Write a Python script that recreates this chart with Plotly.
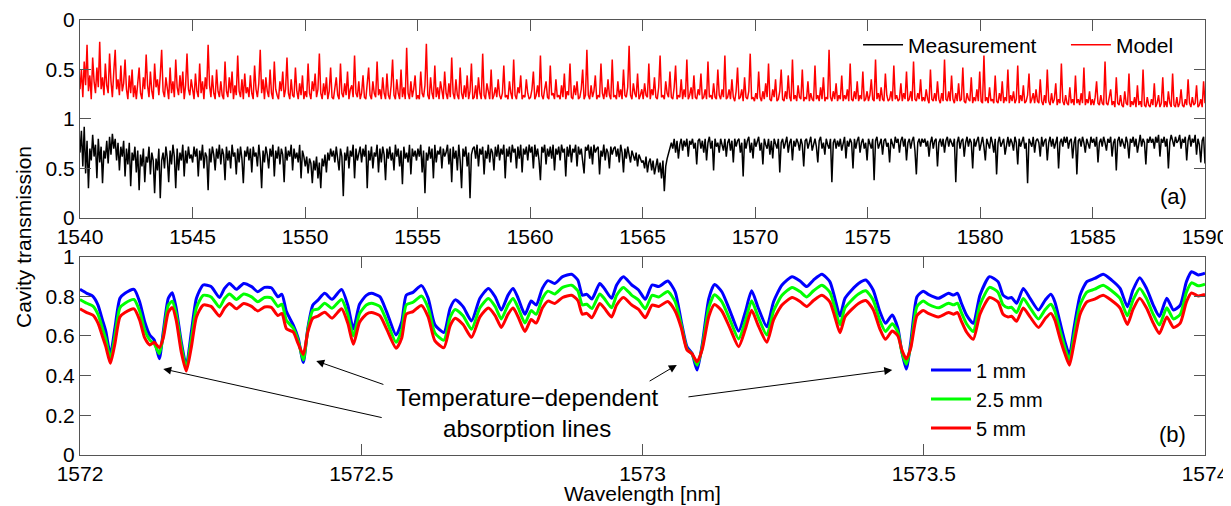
import numpy as np
import plotly.graph_objects as go

# ---------------- Panel (a): broadband spectrum 1540-1590 nm ----------------
meas = [
 .66,.88,.52,.92,.45,.78,.30,.70,.58,.84,.62,.74,.40,.80,.56,.72,.35,.68,.60,.78,
 .55,.82,.64,.85,.70,.80,.58,.76,.48,.72,.62,.78,.42,.70,.54,.76,.32,.66,.58,.72,
 .46,.68,.28,.64,.52,.70,.36,.62,.56,.72,.44,.66,.58,.25,.60,.48,.70,.20,.58,.66,
 .50,.72,.60,.36,.68,.54,.74,.62,.30,.70,.48,.66,.58,.74,.42,.68,.55,.72,.60,.64,
 .56,.72,.62,.70,.42,.68,.58,.74,.50,.66,.62,.28,.70,.56,.72,.64,.48,.70,.60,.74,
 .54,.70,.64,.38,.72,.58,.68,.50,.74,.62,.66,.44,.70,.56,.72,.60,.35,.68,.62,.72,
 .58,.70,.46,.72,.62,.66,.52,.74,.60,.30,.68,.56,.72,.64,.50,.70,.62,.74,.42,.68,
 .60,.72,.54,.70,.64,.36,.72,.58,.68,.62,.74,.48,.70,.60,.66,.56,.74,.40,.68,.62,
 .52,.62,.45,.60,.55,.35,.58,.48,.62,.40,.56,.30,.60,.52,.64,.46,.66,.58,.70,.62,
 .68,.56,.72,.60,.48,.70,.62,.22,.66,.58,.72,.50,.68,.62,.74,.40,.70,.58,.66,.72,
 .56,.70,.62,.74,.30,.68,.58,.72,.50,.66,.62,.74,.46,.70,.56,.72,.64,.38,.70,.60,
 .72,.58,.66,.48,.74,.62,.70,.52,.68,.34,.72,.60,.66,.56,.74,.44,.70,.62,.68,.58,
 .70,.62,.74,.46,.68,.25,.66,.58,.72,.60,.70,.40,.74,.56,.68,.64,.72,.50,.70,.62,
 .66,.74,.54,.70,.36,.72,.60,.68,.48,.74,.58,.30,.70,.62,.72,.52,.66,.20,.64,.70,
 .72,.60,.74,.52,.70,.64,.72,.44,.68,.60,.74,.56,.70,.66,.48,.72,.62,.74,.58,.70,
 .64,.74,.40,.70,.62,.72,.56,.74,.66,.70,.50,.72,.60,.74,.46,.70,.64,.72,.58,.74,
 .66,.72,.50,.74,.62,.70,.58,.38,.72,.66,.74,.54,.70,.62,.72,.60,.74,.48,.70,.64,
 .72,.58,.74,.66,.70,.42,.72,.62,.74,.56,.70,.66,.74,.52,.72,.64,.70,.60,.45,.72,
 .68,.74,.60,.72,.54,.74,.66,.70,.72,.44,.68,.62,.74,.58,.70,.66,.50,.72,.64,.70,
 .72,.62,.70,.56,.74,.66,.46,.70,.60,.72,.64,.56,.68,.62,.58,.66,.52,.64,.60,.56,
 .58,.50,.62,.46,.56,.60,.48,.58,.44,.54,.60,.46,.56,.40,.58,.27,.52,.60,.66,.72,
 .76,.70,.80,.66,.78,.60,.74,.80,.68,.78,.72,.80,.62,.78,.74,.80,.70,.76,.54,.78,
 .80,.70,.78,.66,.80,.58,.76,.82,.70,.78,.48,.80,.72,.76,.66,.80,.74,.68,.80,.62,
 .76,.80,.68,.78,.56,.80,.72,.78,.80,.66,.76,.42,.80,.70,.78,.82,.66,.76,.60,.80,
 .72,.78,.82,.68,.76,.54,.80,.74,.70,.80,.64,.78,.60,.80,.76,.70,.80,.46,.76,.80,
 .70,.78,.82,.66,.76,.80,.58,.78,.72,.80,.76,.68,.80,.74,.52,.78,.80,.70,.76,.82,
 .68,.76,.80,.72,.56,.78,.82,.70,.76,.64,.80,.74,.70,.80,.36,.76,.80,.70,.78,.72,
 .80,.68,.76,.82,.60,.78,.72,.80,.76,.50,.80,.70,.78,.82,.66,.76,.80,.70,.76,.58,
 .80,.74,.70,.80,.38,.78,.82,.70,.76,.80,.64,.78,.80,.72,.76,.56,.80,.76,.70,.82,
 .76,.80,.66,.78,.82,.72,.80,.58,.76,.80,.70,.78,.82,.68,.44,.76,.80,.72,.80,.76,
 .80,.72,.78,.62,.76,.82,.70,.78,.80,.52,.76,.80,.72,.80,.66,.78,.82,.72,.80,.76,
 .72,.80,.36,.76,.82,.70,.78,.80,.62,.76,.82,.72,.80,.76,.50,.80,.72,.78,.82,.68,
 .76,.82,.72,.58,.80,.76,.70,.82,.76,.66,.80,.44,.76,.82,.72,.76,.80,.64,.76,.82,
 .72,.80,.76,.68,.82,.76,.54,.80,.72,.78,.82,.70,.76,.35,.80,.76,.72,.82,.66,.78,
 .80,.76,.62,.82,.72,.78,.80,.58,.76,.82,.72,.80,.70,.76,.82,.50,.76,.80,.72,.82,
 .76,.82,.70,.78,.80,.60,.76,.82,.44,.78,.80,.72,.82,.76,.66,.80,.76,.70,.82,.76,
 .80,.72,.82,.56,.76,.80,.72,.82,.76,.68,.80,.76,.82,.62,.76,.80,.48,.78,.82,.72,
 .80,.76,.70,.82,.76,.60,.80,.76,.82,.72,.80,.66,.76,.84,.72,.80,.76,.54,.80,.76,
 .82,.76,.80,.70,.82,.76,.84,.62,.80,.76,.82,.72,.80,.50,.76,.84,.78,.72,.82,.76,
 .78,.84,.70,.80,.76,.82,.58,.78,.84,.72,.80,.76,.84,.64,.80,.74,.56,.78,.82,.55,
]
model = [
 .70,.50,.78,.42,.66,.25,.72,.56,.80,.38,.62,.74,.48,.68,.22,.70,.58,.76,.44,.66,
 .74,.34,.62,.78,.52,.30,.70,.60,.76,.46,.72,.64,.40,.70,.80,.56,.74,.50,.78,.66,
 .80,.62,.48,.74,.80,.58,.70,.35,.66,.78,.52,.72,.80,.44,.68,.60,.76,.56,.30,.72,
 .78,.58,.72,.80,.48,.74,.62,.78,.40,.68,.76,.56,.74,.52,.80,.66,.34,.70,.76,.60,
 .70,.80,.54,.72,.78,.44,.74,.62,.80,.58,.70,.25,.66,.78,.56,.74,.80,.50,.72,.78,
 .62,.76,.80,.42,.72,.78,.58,.74,.52,.80,.66,.76,.36,.72,.78,.60,.80,.54,.74,.68,
 .78,.56,.74,.80,.46,.70,.78,.64,.30,.74,.60,.80,.58,.72,.78,.50,.74,.80,.42,.70,
 .76,.80,.62,.72,.52,.78,.70,.38,.74,.80,.60,.76,.78,.48,.72,.80,.64,.76,.56,.80,
 .72,.78,.44,.74,.80,.62,.72,.54,.78,.70,.34,.74,.80,.64,.76,.58,.80,.72,.48,.78,
 .80,.68,.58,.76,.80,.44,.74,.78,.64,.76,.52,.80,.70,.66,.78,.36,.74,.78,.62,.80,
 .74,.56,.78,.80,.66,.48,.76,.80,.62,.74,.78,.42,.76,.70,.80,.58,.74,.80,.54,.76,
 .80,.66,.40,.76,.80,.60,.74,.80,.50,.78,.68,.80,.28,.74,.80,.62,.78,.70,.56,.80,
 .76,.80,.52,.74,.78,.66,.24,.76,.80,.58,.74,.80,.46,.78,.68,.80,.62,.74,.80,.52,
 .74,.80,.64,.78,.38,.74,.80,.60,.76,.80,.48,.74,.80,.66,.78,.56,.80,.72,.44,.80,
 .78,.66,.80,.58,.74,.80,.34,.76,.80,.64,.74,.80,.50,.80,.76,.68,.78,.60,.76,.80,
 .74,.46,.78,.76,.80,.62,.74,.80,.40,.76,.80,.68,.74,.56,.80,.76,.78,.60,.74,.80,
 .78,.70,.52,.80,.76,.66,.78,.36,.76,.80,.70,.62,.78,.80,.46,.76,.74,.80,.60,.78,
 .76,.80,.66,.78,.54,.80,.72,.76,.44,.78,.80,.66,.76,.62,.80,.78,.70,.50,.80,.76,
 .30,.76,.80,.66,.78,.72,.56,.80,.76,.78,.44,.74,.80,.68,.78,.60,.76,.80,.40,.78,
 .76,.80,.62,.78,.70,.80,.50,.76,.78,.68,.26,.76,.80,.64,.74,.78,.54,.80,.76,.70,
 .80,.64,.76,.78,.44,.80,.70,.76,.58,.78,.80,.68,.36,.78,.76,.80,.62,.74,.78,.52,
 .78,.80,.68,.46,.80,.76,.78,.60,.80,.70,.78,.40,.80,.76,.68,.80,.56,.78,.80,.70,
 .76,.54,.80,.78,.70,.80,.42,.78,.76,.80,.64,.78,.80,.50,.76,.80,.70,.78,.36,.80,
 .78,.70,.80,.60,.78,.82,.72,.48,.80,.78,.70,.82,.58,.78,.80,.72,.34,.80,.78,.82,
 .74,.80,.52,.78,.82,.72,.80,.64,.78,.44,.80,.82,.70,.78,.60,.82,.80,.72,.50,.80,
 .82,.72,.80,.56,.78,.82,.40,.80,.76,.82,.66,.78,.80,.50,.82,.78,.80,.62,.82,.74,
 .80,.82,.46,.80,.76,.82,.68,.80,.58,.82,.78,.80,.30,.78,.82,.72,.80,.64,.82,.76,
 .80,.56,.82,.76,.80,.70,.82,.44,.80,.82,.72,.80,.62,.82,.76,.80,.52,.82,.80,.72,
 .82,.76,.60,.80,.82,.40,.80,.74,.82,.68,.80,.82,.54,.76,.82,.80,.72,.82,.46,.80,
 .76,.82,.80,.64,.82,.74,.80,.52,.82,.80,.72,.82,.42,.80,.82,.74,.80,.60,.82,.78,
 .82,.70,.80,.84,.50,.80,.82,.74,.82,.62,.80,.84,.74,.82,.40,.80,.82,.72,.82,.56,
 .80,.84,.74,.82,.64,.82,.80,.48,.82,.84,.74,.80,.82,.58,.84,.78,.82,.70,.82,.52,
 .82,.84,.36,.82,.78,.84,.68,.82,.80,.84,.56,.82,.84,.74,.82,.62,.84,.78,.82,.50,
 .84,.76,.82,.72,.84,.80,.46,.84,.76,.82,.66,.84,.82,.76,.54,.84,.80,.74,.84,.70,
 .82,.84,.60,.82,.86,.76,.84,.50,.82,.86,.74,.84,.80,.64,.86,.80,.84,.44,.82,.86,
 .76,.84,.86,.68,.84,.80,.86,.56,.84,.80,.86,.74,.84,.48,.86,.80,.84,.72,.86,.80,
 .86,.78,.62,.84,.86,.76,.84,.86,.42,.84,.86,.78,.70,.86,.82,.88,.58,.84,.86,.76,
 .86,.88,.72,.84,.86,.54,.88,.82,.86,.78,.88,.66,.86,.82,.88,.50,.86,.88,.78,.86,
 .88,.80,.86,.64,.88,.84,.76,.88,.84,.58,.88,.82,.88,.72,.84,.88,.54,.86,.88,.78,
 .88,.84,.70,.86,.88,.80,.86,.60,.84,.88,.78,.86,.84,.66,.88,.86,.80,.88,.62,.84,
]
wl_a = np.linspace(1540, 1590, len(meas))
top_ticks = [0, 0.5, 1, 1.5, 2]
top_tick_text = ["0", "0.5", "1", "0.5", "0"]

# ---------------- Panel (b): zoom 1572-1574 nm, three path lengths ----------------
wl_b = [
 1572.000,1572.012,1572.023,1572.032,1572.040,1572.046,1572.054,1572.062,1572.071,1572.080,
 1572.096,1572.106,1572.115,1572.124,1572.132,1572.141,1572.148,1572.157,1572.164,1572.171,
 1572.180,1572.189,1572.198,1572.207,1572.219,1572.233,1572.248,1572.257,1572.266,1572.278,
 1572.291,1572.305,1572.316,1572.328,1572.340,1572.352,1572.359,1572.367,1572.379,1572.388,
 1572.397,1572.405,1572.414,1572.423,1572.435,1572.448,1572.465,1572.476,1572.486,1572.497,
 1572.509,1572.518,1572.533,1572.545,1572.562,1572.572,1572.580,1572.592,1572.607,1572.619,
 1572.631,1572.647,1572.658,1572.667,1572.681,1572.696,1572.711,1572.726,1572.738,1572.749,
 1572.761,1572.770,1572.779,1572.791,1572.802,1572.811,1572.822,1572.832,1572.844,1572.858,
 1572.874,1572.885,1572.893,1572.901,1572.910,1572.924,1572.932,1572.945,1572.954,1572.966,
 1572.981,1572.993,1573.005,1573.017,1573.029,1573.045,1573.058,1573.069,1573.079,1573.088,
 1573.097,1573.106,1573.118,1573.128,1573.141,1573.156,1573.171,1573.183,1573.194,1573.206,
 1573.221,1573.233,1573.248,1573.266,1573.280,1573.292,1573.304,1573.319,1573.333,1573.342,
 1573.351,1573.360,1573.372,1573.384,1573.397,1573.410,1573.422,1573.432,1573.444,1573.454,
 1573.461,1573.469,1573.477,1573.488,1573.499,1573.508,1573.526,1573.544,1573.553,1573.560,
 1573.567,1573.576,1573.588,1573.600,1573.617,1573.632,1573.641,1573.650,1573.656,1573.665,
 1573.677,1573.689,1573.704,1573.716,1573.726,1573.733,1573.742,1573.751,1573.759,1573.767,
 1573.778,1573.790,1573.804,1573.819,1573.834,1573.849,1573.862,1573.872,1573.884,1573.896,
 1573.908,1573.919,1573.932,1573.944,1573.956,1573.967,1573.976,1573.988,1574.000,
]
t_1mm = [
 .835,.815,.800,.756,.680,.622,.505,.639,.790,.815,
 .835,.773,.672,.605,.580,.485,.622,.790,.818,.740,
 .571,.450,.622,.790,.857,.849,.794,.840,.865,.835,
 .865,.849,.823,.845,.843,.798,.810,.723,.656,.588,
 .466,.639,.756,.781,.815,.785,.835,.756,.635,.760,
 .805,.815,.798,.723,.605,.672,.806,.820,.854,.790,
 .656,.618,.740,.782,.748,.676,.790,.840,.798,.731,
 .806,.840,.790,.709,.776,.756,.840,.879,.865,.899,
 .911,.882,.806,.810,.786,.865,.840,.790,.857,.899,
 .857,.832,.785,.857,.849,.877,.823,.672,.546,.513,
 .428,.554,.790,.860,.823,.723,.625,.723,.828,.740,
 .647,.773,.857,.899,.877,.849,.882,.911,.874,.790,
 .701,.790,.832,.865,.882,.832,.723,.664,.706,.639,
 .521,.433,.571,.798,.826,.810,.790,.815,.806,.815,
 .765,.706,.664,.806,.899,.874,.806,.790,.794,.765,
 .840,.790,.731,.781,.810,.773,.672,.571,.504,.639,
 .806,.874,.890,.911,.882,.840,.748,.832,.894,.840,
 .756,.698,.790,.731,.756,.874,.924,.908,.916,
]
t_25mm = [
 .784,.765,.751,.709,.638,.583,.485,.599,.742,.765,
 .784,.726,.630,.580,.560,.510,.600,.755,.775,.710,
 .550,.440,.585,.742,.805,.797,.745,.789,.812,.784,
 .812,.797,.773,.794,.792,.749,.760,.678,.640,.575,
 .479,.630,.730,.735,.765,.740,.784,.709,.600,.713,
 .756,.765,.749,.678,.568,.630,.757,.770,.802,.742,
 .615,.579,.694,.734,.702,.634,.742,.789,.749,.686,
 .757,.789,.742,.665,.728,.709,.789,.826,.812,.845,
 .856,.828,.757,.760,.738,.812,.789,.742,.805,.845,
 .805,.781,.737,.805,.797,.824,.773,.655,.535,.510,
 .453,.540,.745,.808,.773,.678,.585,.678,.777,.694,
 .605,.726,.805,.845,.824,.797,.828,.856,.821,.742,
 .657,.742,.781,.812,.828,.781,.678,.623,.662,.620,
 .520,.458,.550,.749,.776,.760,.742,.765,.757,.765,
 .718,.662,.623,.757,.845,.821,.757,.742,.745,.718,
 .789,.742,.686,.733,.760,.726,.630,.540,.479,.599,
 .757,.821,.836,.856,.828,.789,.702,.781,.840,.789,
 .709,.655,.742,.686,.709,.821,.868,.853,.861,
]
t_5mm = [
 .737,.718,.705,.665,.597,.545,.462,.560,.696,.718,
 .737,.681,.590,.555,.568,.541,.590,.720,.743,.680,
 .520,.423,.545,.696,.756,.749,.700,.741,.764,.737,
 .764,.749,.726,.746,.744,.703,.714,.636,.620,.560,
 .507,.620,.690,.700,.720,.690,.737,.665,.558,.669,
 .710,.718,.703,.636,.538,.590,.710,.723,.754,.696,
 .575,.541,.651,.689,.658,.593,.696,.741,.703,.643,
 .710,.741,.696,.623,.683,.665,.741,.776,.764,.794,
 .805,.779,.710,.714,.692,.764,.741,.696,.756,.794,
 .756,.734,.692,.756,.749,.774,.726,.640,.530,.510,
 .470,.530,.700,.759,.726,.636,.546,.636,.730,.651,
 .568,.681,.756,.794,.774,.749,.779,.805,.772,.696,
 .616,.696,.734,.764,.779,.734,.636,.583,.625,.600,
 .530,.484,.540,.703,.728,.714,.696,.718,.710,.718,
 .674,.620,.583,.710,.794,.772,.710,.696,.700,.674,
 .741,.696,.643,.688,.714,.681,.590,.510,.453,.560,
 .710,.772,.786,.805,.779,.741,.658,.734,.790,.741,
 .665,.613,.696,.643,.665,.772,.817,.802,.809,
]
b_ticks = [1572, 1572.5, 1573, 1573.5, 1574]
b_tick_text = ["1572", "1572.5", "1573", "1573.5", "1574"]

FONT = "Liberation Sans, Arial, Helvetica, sans-serif"
AXC = "#555555"

fig = go.Figure()
fig.add_trace(go.Scatter(x=wl_a, y=meas, xaxis="x", yaxis="y", mode="lines",
                         line=dict(color="black", width=1.5), name="Measurement", legend="legend"))
fig.add_trace(go.Scatter(x=wl_a, y=model, xaxis="x", yaxis="y3", mode="lines",
                         line=dict(color="red", width=1.5), name="Model", legend="legend3"))
for yy, nm, col in [(t_1mm, "1 mm", "#0000ff"), (t_25mm, "2.5 mm", "#00ff00"), (t_5mm, "5 mm", "#ff0000")]:
    fig.add_trace(go.Scatter(x=wl_b, y=yy, xaxis="x2", yaxis="y2", mode="lines",
                             line=dict(color=col, width=3, shape="spline", smoothing=0.6),
                             name=nm, legend="legend2"))

axis_common = dict(showline=True, linecolor=AXC, linewidth=1, mirror="ticks", ticks="inside",
                   tickcolor=AXC, ticklen=11, tickwidth=1, showgrid=False, zeroline=False,
                   tickfont=dict(family=FONT, size=21, color="black"))

leg_common = dict(bgcolor="rgba(0,0,0,0)", borderwidth=0, itemwidth=40)

# the page body adds an 8 px offset, so the figure is drawn 8 px smaller
fig.update_layout(
    width=1223, height=498,
    margin=dict(l=72, r=26, t=12, b=51, autoexpand=False),
    paper_bgcolor="white", plot_bgcolor="white",
    font=dict(family=FONT, size=21, color="black"),
    xaxis=dict(domain=[0, 1], anchor="y", range=[1540, 1590], dtick=5, tick0=1540, **axis_common),
    yaxis=dict(domain=[0.545, 1], anchor="x", range=[0, 2], tickvals=top_ticks,
               ticktext=top_tick_text, **axis_common),
    yaxis3=dict(overlaying="y", anchor="x", range=[2, 0], visible=False),
    xaxis2=dict(domain=[0, 1], anchor="y2", range=[1572, 1574], tickvals=b_ticks,
                ticktext=b_tick_text, **axis_common),
    yaxis2=dict(domain=[0, 0.456], anchor="x2", range=[0, 1], dtick=0.2, tick0=0, **axis_common),
    legend=dict(orientation="h", x=0.6916, xanchor="left", y=0.9425, yanchor="middle",
                font=dict(family=FONT, size=21), **leg_common),
    legend3=dict(orientation="h", x=0.8764, xanchor="left", y=0.9425, yanchor="middle",
                 font=dict(family=FONT, size=21), **leg_common),
    legend2=dict(orientation="v", x=0.752, xanchor="left", y=0.2404, yanchor="top",
                 font=dict(family=FONT, size=20), tracegroupgap=0, **leg_common),
    showlegend=True,
)

ann = []
ann.append(dict(text="(a)", x=0.9716, y=0.595, xref="paper", yref="paper", showarrow=False,
                xanchor="center", yanchor="middle", font=dict(size=22)))
ann.append(dict(text="(b)", x=0.9707, y=0.048, xref="paper", yref="paper", showarrow=False,
                xanchor="center", yanchor="middle", font=dict(size=22)))
ann.append(dict(text="Cavity transmission", x=-0.0507, y=0.501, xref="paper", yref="paper",
                showarrow=False, textangle=-90, xanchor="center", yanchor="middle",
                font=dict(size=21)))
ann.append(dict(text="Wavelength [nm]", x=0.4996, y=-0.0885, xref="paper", yref="paper",
                showarrow=False, xanchor="center", yanchor="middle", font=dict(size=21)))
ann.append(dict(text="Temperature\u2212dependent<br>absorption lines", x=1572.795, y=0.214,
                xref="x2", yref="y2", showarrow=False, xanchor="center", yanchor="middle",
                font=dict(size=24), align="center"))
arrows = [
    (1572.148, 0.434, 1572.539, 0.187),
    (1572.420, 0.474, 1572.542, 0.353),
    (1573.061, 0.454, 1573.010, 0.368),
    (1573.444, 0.429, 1573.079, 0.292),
]
for hx, hy, tx, ty in arrows:
    ann.append(dict(x=hx, y=hy, ax=tx, ay=ty, xref="x2", yref="y2", axref="x2", ayref="y2",
                    showarrow=True, arrowhead=2, arrowsize=1.6, arrowwidth=1, arrowcolor="black",
                    text=""))
fig.update_layout(annotations=ann)

fig.write_html("out.html")
